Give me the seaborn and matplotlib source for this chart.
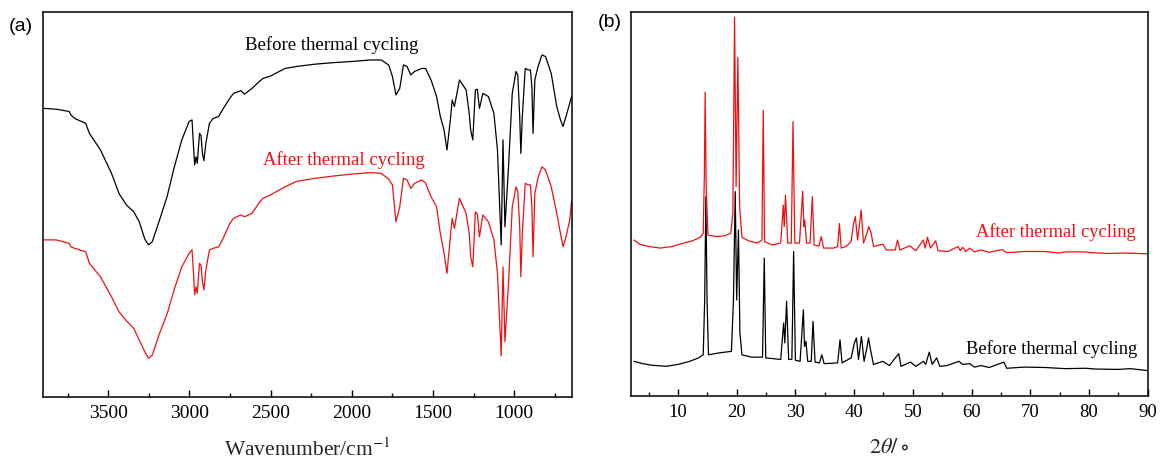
import numpy as np
import pandas as pd
import matplotlib
matplotlib.use("Agg")
import matplotlib.pyplot as plt
import seaborn as sns

# ---------------- FTIR data (panel a) ----------------
ftir_wn = [3896, 3821, 3741, 3730, 3707, 3639, 3616, 3548, 3480, 3434, 3389, 3343,
           3309, 3275, 3252, 3229, 3184, 3138, 3093, 3047, 3002, 2984, 2975, 2968,
           2959, 2952, 2938, 2929, 2920, 2911, 2899, 2877, 2854, 2820, 2797, 2752,
           2729, 2683, 2661, 2615, 2570, 2547, 2502, 2411, 2342, 2228, 2115, 2001,
           1887, 1819, 1773, 1750, 1728, 1705, 1682, 1660, 1637, 1614, 1569, 1546,
           1512, 1478, 1455, 1432, 1414, 1391, 1382, 1368, 1337, 1296, 1277, 1268,
           1255, 1239, 1227, 1214, 1193, 1159, 1125, 1103, 1080, 1069, 1057, 1035,
           1012, 989, 978, 966, 959, 950, 932, 914, 900, 891, 884, 873, 853, 829,
           807, 772, 738, 715, 699, 681, 658, 647]
ftir_before = [75.0, 74.8, 74.2, 73.3, 72.4, 71.1, 68.5, 64.2, 58.1, 52.9, 49.9, 48.1,
               45.5, 41.0, 39.5, 40.3, 46.0, 52.0, 59.8, 66.8, 71.6, 72.0, 65.1, 60.3,
               62.4, 60.7, 68.5, 68.0, 63.3, 61.4, 65.9, 71.1, 72.4, 72.9, 74.6, 77.6,
               78.9, 79.6, 78.7, 80.2, 82.0, 82.8, 83.4, 85.4, 85.9, 86.5, 86.9, 87.2,
               87.6, 87.6, 86.3, 83.3, 78.5, 80.2, 86.3, 85.9, 83.7, 84.6, 85.4, 85.4,
               82.4, 78.1, 72.9, 69.4, 64.2, 72.9, 77.2, 75.5, 82.4, 79.8, 73.7, 69.4,
               66.8, 79.8, 80.0, 75.0, 78.9, 78.1, 73.7, 64.2, 39.5, 66.8, 44.2, 59.8,
               78.9, 84.6, 83.7, 72.9, 63.3, 72.9, 85.4, 85.0, 85.0, 80.6, 68.5, 82.4,
               85.9, 88.9, 88.5, 84.1, 75.5, 72.0, 70.3, 72.9, 76.3, 78.1]
ftir_after = [40.8, 40.8, 39.9, 39.0, 38.6, 37.7, 34.7, 31.2, 26.0, 22.1, 19.8, 17.8,
              14.7, 11.7, 10.0, 10.8, 16.5, 21.5, 28.0, 33.8, 37.3, 38.2, 32.0, 26.5,
              28.6, 26.9, 34.7, 34.2, 29.9, 27.8, 32.9, 38.2, 38.6, 39.0, 40.8, 45.0,
              46.4, 47.3, 46.8, 47.7, 50.5, 51.6, 52.5, 54.6, 56.0, 56.8, 57.4, 57.9,
              58.3, 58.1, 56.6, 55.1, 45.5, 49.4, 56.8, 56.4, 54.2, 55.5, 56.4, 55.6,
              52.0, 49.4, 42.5, 37.3, 32.1, 42.5, 46.4, 43.8, 51.6, 47.7, 42.5, 36.4,
              33.8, 48.1, 47.6, 41.6, 47.3, 45.5, 40.8, 32.1, 10.6, 33.8, 14.3, 29.5,
              49.4, 54.6, 53.5, 44.2, 31.2, 42.5, 55.5, 55.1, 55.1, 49.4, 36.4, 52.9,
              57.0, 59.8, 59.0, 54.6, 47.7, 42.5, 39.0, 41.6, 46.0, 50.7]

# ---------------- XRD data (panel b) ----------------
xrd_after_2t = [2.5, 3.5, 5, 7, 9, 11, 12.5, 13.8, 14.3, 14.5, 14.63, 14.8, 15.1, 16.5,
                18, 19.0, 19.35, 19.64, 19.9, 20.2, 20.5, 20.9, 22, 23.5, 24.3, 24.52,
                24.75, 26, 27.5, 27.94, 28.1, 28.32, 28.7, 29.3, 29.59, 29.9, 30.7,
                31.24, 31.45, 31.6, 31.9, 32.5, 32.88, 33.2, 34.0, 34.4, 34.8, 36.5,
                37.2, 37.5, 37.8, 38.6, 39.5, 39.9, 40.2, 40.6, 41.2, 41.6, 42.2, 42.5,
                42.9, 43.3, 44.9, 45.5, 47.0, 47.4, 47.8, 49.5, 50.5, 51.8, 52.1, 52.5,
                53.0, 53.9, 54.3, 56, 57.7, 58.1, 58.5, 59.0, 59.7, 60.5, 61.6, 63,
                65.2, 66, 69, 72.5, 75, 76, 79.3, 80.5, 83, 86, 90]
xrd_after = [40.5, 39.4, 38.8, 38.4, 38.8, 39.7, 40.3, 41.2, 42.3, 57.8, 79.0, 54.4,
             41.8, 41.4, 41.6, 42.3, 47.4, 98.5, 54.4, 88.1, 49.2, 41.2, 40.3, 39.7,
             40.5, 74.3, 40.1, 39.2, 39.7, 49.6, 44.0, 52.2, 39.7, 39.7, 71.3, 39.7,
             39.7, 53.2, 44.0, 45.7, 39.7, 39.7, 51.8, 39.2, 38.9, 41.4, 38.4, 38.4,
             38.8, 44.8, 38.4, 38.8, 40.1, 44.8, 46.6, 40.5, 48.3, 39.7, 42.3, 44.0,
             42.3, 38.8, 39.4, 37.9, 37.9, 40.5, 37.9, 39.0, 37.7, 40.5, 38.4, 41.2,
             38.4, 40.3, 37.7, 37.5, 38.8, 37.7, 38.6, 37.5, 38.4, 37.4, 37.9, 37.3,
             38.0, 37.2, 37.5, 37.5, 37.1, 37.4, 37.4, 37.2, 37.0, 37.1, 36.9]

xrd_before_2t = [2.5, 4, 5.5, 8, 10, 12, 13.5, 14.3, 14.55, 14.75, 14.95, 15.2, 17,
                 19.1, 19.45, 19.75, 20.0, 20.3, 20.55, 20.9, 22.5, 24.4, 24.7, 24.95,
                 27.5, 28.0, 28.2, 28.5, 28.85, 29.4, 29.7, 30.0, 30.8, 31.36, 31.55,
                 31.8, 32.1, 32.7, 33.0, 33.35, 34.1, 34.5, 34.9, 37.2, 37.6, 37.95,
                 39.5, 40.05, 40.4, 40.75, 41.25, 41.7, 42.2, 42.46, 42.75, 43.3, 44.9,
                 46, 47.6, 48.0, 49.6, 50.5, 51.8, 52.2, 52.8, 53.3, 54.06, 54.6, 55.8,
                 57.86, 58.5, 59.7, 60.5, 61.6, 63, 65.5, 66, 69, 72.5, 76, 79.5, 81,
                 85, 87, 90]
xrd_before = [8.9, 8.3, 7.9, 7.6, 8.1, 8.9, 9.8, 10.6, 24.9, 51.8, 24.9, 10.6, 11.1,
              11.5, 24.9, 53.1, 24.9, 43.1, 16.3, 10.6, 10.0, 10.0, 35.8, 9.8,
              9.4, 18.9, 13.7, 24.5, 9.4, 9.4, 37.5, 9.2, 8.9, 22.3, 12.8,
              14.1, 8.9, 8.9, 19.3, 8.7, 8.5, 10.6, 8.3, 8.5, 14.5, 8.5,
              9.8, 13.7, 15.0, 9.4, 15.4, 8.9, 12.6, 15.0, 12.3, 8.1, 8.9,
              7.8, 10.9, 7.6, 8.7, 7.6, 8.9, 8.1, 11.3, 8.1, 9.8, 7.6, 7.8,
              8.9, 8.1, 8.3, 7.4, 7.8, 7.3, 8.7, 7.1, 7.4, 7.3, 7.0, 7.1, 6.9,
              6.8, 7.0, 6.5]

label_before = "Before thermal cycling"
label_after = "After thermal cycling"
ftir_ticks = [3500, 3000, 2500, 2000, 1500, 1000]
xrd_ticks = [10, 20, 30, 40, 50, 60, 70, 80, 90]

# ---------------- style ----------------
sns.set_style("ticks")
SERIF = ["Liberation Serif", "DejaVu Serif"]
plt.rcParams["font.family"] = SERIF
plt.rcParams["mathtext.fontset"] = "stix"
plt.rcParams["axes.linewidth"] = 1.1
plt.rcParams["axes.edgecolor"] = "black"
plt.rcParams["xtick.color"] = "black"
plt.rcParams["text.color"] = "black"

fig = plt.figure(figsize=(11.61, 4.59), dpi=100)
ax1 = fig.add_axes([0.0373, 0.1357, 0.4551, 0.8375])
ax2 = fig.add_axes([0.5435, 0.1383, 0.4450, 0.8366])

df_ftir = pd.DataFrame({"wn": ftir_wn, "before": ftir_before, "after": ftir_after})
sns.lineplot(data=df_ftir, x="wn", y="before", ax=ax1, color="black", lw=0.9,
             estimator=None, sort=False)
sns.lineplot(data=df_ftir, x="wn", y="after", ax=ax1, color="#ee1111", lw=0.9,
             estimator=None, sort=False)

df_a = pd.DataFrame({"t": xrd_after_2t, "i": xrd_after})
df_b = pd.DataFrame({"t": xrd_before_2t, "i": xrd_before})
sns.lineplot(data=df_b, x="t", y="i", ax=ax2, color="black", lw=0.9,
             estimator=None, sort=False)
sns.lineplot(data=df_a, x="t", y="i", ax=ax2, color="#ee1111", lw=0.9,
             estimator=None, sort=False)

# panel a axes
ax1.set_xlim(3900, 646)
ax1.set_ylim(0, 100)
ax1.set_xticks(ftir_ticks)
ax1.set_xticklabels([str(t) for t in ftir_ticks], fontfamily=SERIF)
ax1.set_xticks([3750, 3250, 2750, 2250, 1750, 1250, 750], minor=True)
ax1.set_yticks([])
ax1.set_ylabel("")
ax1.set_xlabel("Wavenumber/cm$^{-1}$", fontsize=15.5)
ax1.xaxis.set_label_coords(0.5, -0.108)
ax1.text(0.546, 0.915, label_before, transform=ax1.transAxes, fontsize=13.5,
         color="black", ha="center", va="center")
ax1.text(0.569, 0.616, label_after, transform=ax1.transAxes, fontsize=13.5,
         color="#ee1111", ha="center", va="center")

# panel b axes
ax2.set_xlim(2, 90)
ax2.set_ylim(0, 100)
ax2.set_xticks(xrd_ticks)
ax2.set_xticklabels([str(t) for t in xrd_ticks], fontfamily=SERIF)
ax2.set_xticks([5, 15, 25, 35, 45, 55, 65, 75, 85], minor=True)
ax2.set_yticks([])
ax2.set_ylabel("")
ax2.set_xlabel(r"$2\mathit{\theta}/\circ$", fontsize=16)
ax2.xaxis.set_label_coords(0.5, -0.112)
ax2.text(0.8225, 0.426, label_after, transform=ax2.transAxes, fontsize=13.3,
         color="#ee1111", ha="center", va="center")
ax2.text(0.8145, 0.121, label_before, transform=ax2.transAxes, fontsize=13.3,
         color="black", ha="center", va="center")

for ax, fs in ((ax1, 14), (ax2, 13.5)):
    for s in ax.spines.values():
        s.set_visible(True)
        s.set_color("black")
        s.set_linewidth(1.1)
    ax.tick_params(axis="x", which="major", direction="in", length=5, width=1.0,
                   pad=6, labelsize=fs, top=False)
    ax.tick_params(axis="x", which="minor", direction="in", length=3, width=1.0,
                   top=False)
    ax.tick_params(axis="y", left=False, right=False)

fig.text(0.018, 0.943, "(a)", fontsize=14, family=["Liberation Sans", "DejaVu Sans"],
         ha="center", va="center")
fig.text(0.5254, 0.952, "(b)", fontsize=14, family=["Liberation Sans", "DejaVu Sans"],
         ha="center", va="center")

fig.savefig("out.png", dpi=100)
